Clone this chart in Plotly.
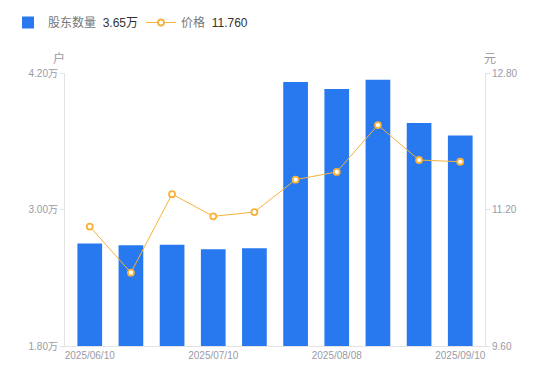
import plotly.graph_objects as go

dates = ["2025/06/10", "2025/06/20", "2025/06/30", "2025/07/10", "2025/07/20",
         "2025/07/31", "2025/08/08", "2025/08/20", "2025/08/31", "2025/09/10"]
holders = [2.70, 2.685, 2.69, 2.65, 2.66, 4.12, 4.06, 4.14, 3.76, 3.65]  # 万户
prices = [11.00, 10.46, 11.38, 11.12, 11.17, 11.55, 11.64, 12.19, 11.78, 11.76]

left_ticks = [1.8, 3.0, 4.2]
left_ticktext = ["1.80万", "3.00万", "4.20万"]
right_ticks = [9.6, 11.2, 12.8]
right_ticktext = ["9.60", "11.20", "12.80"]
x_tick_labels = ["2025/06/10", "2025/07/10", "2025/08/08", "2025/09/10"]

BLUE = "#2878F0"
ORANGE = "#F7B23B"
GRAY = "#9A9AA6"
AXIS = "#E3E3E6"
FONT = "Liberation Sans, Noto Sans CJK SC, sans-serif"

# The page body has an 8px default margin; size and margins compensate for it.
fig = go.Figure()
fig.add_trace(go.Bar(
    x=dates, y=holders, name="股东数量  <span style='color:#333'>3.65万</span>",
    marker=dict(color=BLUE, line=dict(width=0)), yaxis="y",
))
fig.add_trace(go.Scatter(
    x=dates, y=prices, name="价格  <span style='color:#333'>11.760</span>",
    mode="lines+markers", yaxis="y2",
    line=dict(color=ORANGE, width=1),
    marker=dict(symbol="circle", size=6, color="white", line=dict(color=ORANGE, width=1.8)),
))

fig.update_layout(
    width=534, height=365,
    margin=dict(l=57, r=57, t=65, b=27),
    paper_bgcolor="white", plot_bgcolor="white",
    font=dict(family=FONT, size=11, color=GRAY),
    bargap=0.4,
    showlegend=True,
    legend=dict(orientation="h", xref="container", yref="container",
                x=0, y=1.0, xanchor="left", yanchor="top",
                font=dict(size=12, color="#777"), itemwidth=30,
                entrywidth=88, entrywidthmode="pixels",
                tracegroupgap=0, traceorder="normal"),
    xaxis=dict(type="category", tickmode="array", tickvals=x_tick_labels,
               ticktext=x_tick_labels, showgrid=False, showline=True,
               linecolor=AXIS, linewidth=1, ticks="", tickfont=dict(size=10, color=GRAY),
               zeroline=False),
    yaxis=dict(range=[1.8, 4.2], tickmode="array", tickvals=left_ticks,
               ticktext=left_ticktext, showgrid=False, showline=True,
               linecolor=AXIS, linewidth=1, ticks="outside", ticklen=4,
               tickcolor=AXIS, tickfont=dict(size=10, color=GRAY), zeroline=False),
    yaxis2=dict(range=[9.6, 12.8], overlaying="y", side="right", tickmode="array",
                tickvals=right_ticks, ticktext=right_ticktext, showgrid=False,
                showline=True, linecolor=AXIS, linewidth=1, ticks="outside",
                ticklen=4, tickcolor=AXIS, tickfont=dict(size=10, color=GRAY),
                zeroline=False),
    annotations=[
        dict(text="户", xref="paper", yref="paper", x=-0.015, y=1.019, showarrow=False,
             xanchor="center", yanchor="bottom", font=dict(size=12, color=GRAY)),
        dict(text="元", xref="paper", yref="paper", x=1.013, y=1.019, showarrow=False,
             xanchor="center", yanchor="bottom", font=dict(size=12, color=GRAY)),
    ],
)

fig.write_html("out.html")
